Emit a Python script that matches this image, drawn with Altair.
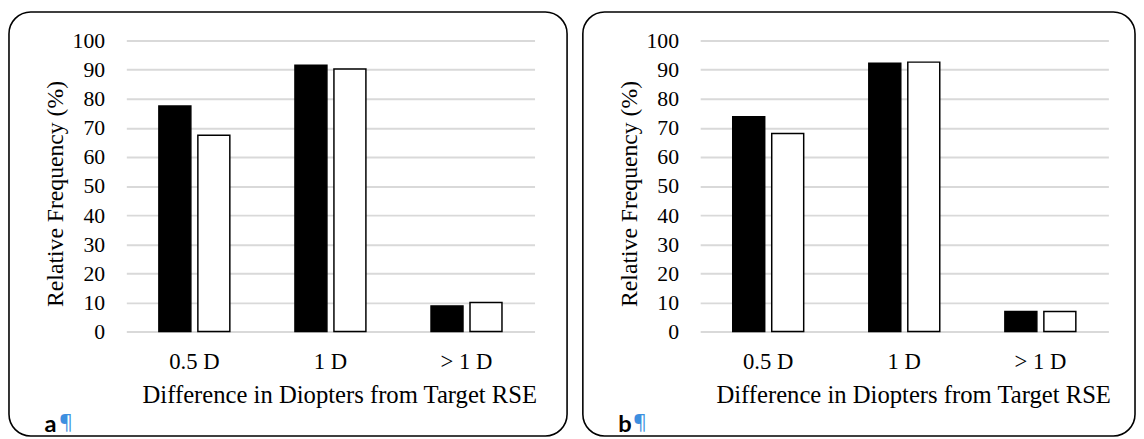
import altair as alt
import pandas as pd

categories = ["0.5 D", "1 D", "> 1 D"]
series = ["Series 1", "Series 2"]
a_series1 = [77.5, 91.5, 8.8]
a_series2 = [67.5, 90.2, 10.0]
b_series1 = [73.8, 92.2, 6.9]
b_series2 = [68.1, 92.6, 6.9]
y_ticks = [0, 10, 20, 30, 40, 50, 60, 70, 80, 90, 100]
y_title = "Relative Frequency (%)"
x_title = "Difference in Diopters from Target RSE"

W, H = 414, 295
SERIF = "Liberation Serif, Times New Roman, serif"


def make_panel(s1, s2, letter, box_right):
    rows = []
    for c, v in zip(categories, s1):
        rows.append({"cat": c, "series": series[0], "value": v})
    for c, v in zip(categories, s2):
        rows.append({"cat": c, "series": series[1], "value": v})
    df = pd.DataFrame(rows)

    bars = alt.Chart(df).mark_bar(stroke="black", strokeWidth=1.5).encode(
        x=alt.X("cat:N", sort=categories,
                scale=alt.Scale(paddingInner=0, paddingOuter=0),
                axis=alt.Axis(title=x_title, labelAngle=0, domain=False, ticks=False,
                              labelFont=SERIF, labelFontSize=23, labelColor="black",
                              labelPadding=20, titleFont=SERIF, titleFontSize=25,
                              titleFontWeight="normal", titleColor="black",
                              titlePadding=9, titleX=W / 2 + 9)),
        xOffset=alt.XOffset("series:N", sort=series,
                            scale=alt.Scale(paddingInner=0.18, paddingOuter=0.835)),
        y=alt.Y("value:Q", scale=alt.Scale(domain=[0, 100], nice=False),
                axis=alt.Axis(title=y_title, values=y_ticks, domain=False, ticks=False,
                              gridColor="#d9d9d9", gridWidth=2,
                              labelFont=SERIF, labelFontSize=22, labelColor="black",
                              labelPadding=22, titleFont=SERIF, titleFontSize=24,
                              titleFontWeight="normal", titleColor="black",
                              titleX=-72, titleY=155, titleAngle=270,
                              titleBaseline="middle", titleAlign="center")),
        color=alt.Color("series:N", sort=series,
                        scale=alt.Scale(domain=series, range=["black", "white"]),
                        legend=None),
    )

    one = alt.Data(values=[{"k": 1}])
    box = alt.Chart(one).mark_rect(fill="transparent", stroke="black", strokeWidth=1.6,
                                   cornerRadius=22).encode(
        x=alt.value(-119), x2=alt.value(box_right),
        y=alt.value(-29), y2=alt.value(401),
    )
    lab = alt.Chart(one).mark_text(font="Lato", fontWeight="bold", fontSize=24,
                                   color="black", align="left", baseline="alphabetic").encode(
        x=alt.value(-83), y=alt.value(397), text=alt.value(letter))
    pil = alt.Chart(one).mark_text(font="Noto Sans", fontSize=21,
                                   color="#3d8fe0", align="left", baseline="alphabetic").encode(
        x=alt.value(-68), y=alt.value(394), text=alt.value("¶"))

    return alt.layer(bars, box, lab, pil).properties(width=W, height=H)


pa = make_panel(a_series1, a_series2, "a", 447)
pb = make_panel(b_series1, b_series2, "b", 441)

chart = alt.hconcat(pa, pb, spacing=14).properties(
    padding={"left": 0, "top": 0, "right": 0, "bottom": 0},
    background="white",
).configure_view(stroke=None)

chart.save("out.html", embed_options={"renderer": "svg", "actions": False})
